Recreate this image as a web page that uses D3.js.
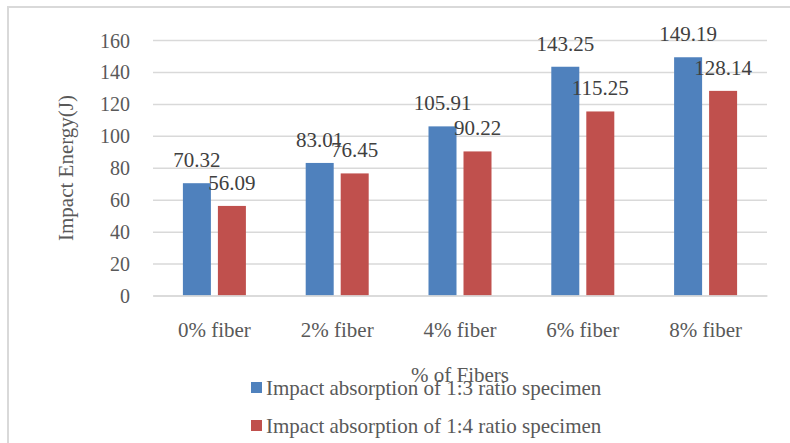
<!DOCTYPE html>
<html><head><meta charset="utf-8">
<script src="https://cdn.jsdelivr.net/npm/d3@7"></script>
<style>body{margin:0;background:#fff}svg{display:block}</style>
</head><body><svg id="c" width="790" height="443" style="font-family:'Liberation Serif','Times New Roman','DejaVu Serif',serif"></svg>
<script>
const categories = ["0% fiber","2% fiber","4% fiber","6% fiber","8% fiber"];
const seriesNames = ["Impact absorption of 1:3 ratio specimen","Impact absorption of 1:4 ratio specimen"];
const ratio13 = [70.32, 83.01, 105.91, 143.25, 149.19];
const ratio14 = [56.09, 76.45, 90.22, 115.25, 128.14];
const yTicks = [0,20,40,60,80,100,120,140,160];
const colors = ["#4F81BD","#C0504D"];
const FONT = "'Liberation Serif','Times New Roman','DejaVu Serif',serif";

const svg = d3.select("#c");
svg.append("rect").attr("x",8).attr("y",7).attr("width",800).attr("height",460)
  .attr("fill","#fff").attr("stroke","#d9d9d9").attr("stroke-width",2);

const x0 = d3.scaleBand().domain(categories).range([153,767]).paddingInner(0).paddingOuter(0);
const y = d3.scaleLinear().domain([0,160]).range([295.5,40]);
const xs = d3.scaleBand().domain([0,1]).range([0,63]).paddingInner(0.2);

const yAxis = d3.axisLeft(y).tickValues(yTicks).tickSize(-(767-153)).tickFormat(d3.format("d"));
const ga = svg.append("g").attr("transform","translate(153,0)").call(yAxis).attr("font-family",FONT);
ga.select(".domain").remove();
ga.selectAll(".tick line").attr("stroke","#d9d9d9").attr("stroke-width",1.5);
ga.selectAll(".tick text").attr("x",-23).attr("dy","0.35em").attr("fill","#595959")
  .style("font-size","20px").style("font-family",FONT);

const data = categories.map((c,i)=>({c, v:[ratio13[i], ratio14[i]]}));
const groups = svg.append("g").selectAll("g").data(data).join("g")
  .attr("transform", d=>`translate(${x0(d.c)+ (x0.bandwidth()-63)/2},0)`);
groups.selectAll("rect").data(d=>d.v.map((v,k)=>({v,k}))).join("rect")
  .attr("x", d=>xs(d.k)).attr("width", xs.bandwidth())
  .attr("y", d=>y(d.v)).attr("height", d=>y(0)-y(d.v))
  .attr("fill", d=>colors[d.k]);
groups.selectAll("text").data(d=>d.v.map((v,k)=>({v,k}))).join("text")
  .attr("x", d=>xs(d.k)+xs.bandwidth()/2).attr("y", d=>y(d.v)-16)
  .attr("text-anchor","middle").attr("fill","#404040")
  .style("font-size","21px").style("font-family",FONT)
  .text(d=>d3.format(".2f")(d.v));

const xAxis = d3.axisBottom(x0).tickSize(0);
const gx = svg.append("g").attr("transform","translate(0,295.5)").call(xAxis).attr("font-family",FONT);
gx.select(".domain").attr("stroke","#d9d9d9").attr("stroke-width",1.5);
gx.selectAll(".tick text").attr("y",41).attr("dy",0).attr("fill","#595959")
  .style("font-size","21px").style("font-family",FONT);

svg.append("text").attr("x",460).attr("y",382).attr("text-anchor","middle")
  .attr("fill","#595959").style("font-size","21px").style("font-family",FONT).text("% of Fibers");
svg.append("text").attr("transform","translate(73,168) rotate(-90)").attr("text-anchor","middle")
  .attr("fill","#595959").style("font-size","21px").style("font-family",FONT).text("Impact Energy(J)");

const leg = svg.append("g").selectAll("g").data(seriesNames).join("g")
  .attr("transform",(d,i)=>`translate(251,${382+i*38})`);
leg.append("rect").attr("width",11).attr("height",11).attr("fill",(d,i)=>colors[i]);
leg.append("text").attr("x",15).attr("y",13).attr("fill","#595959")
  .style("font-size","21px").style("font-family",FONT).text(d=>d);
</script></body></html>
